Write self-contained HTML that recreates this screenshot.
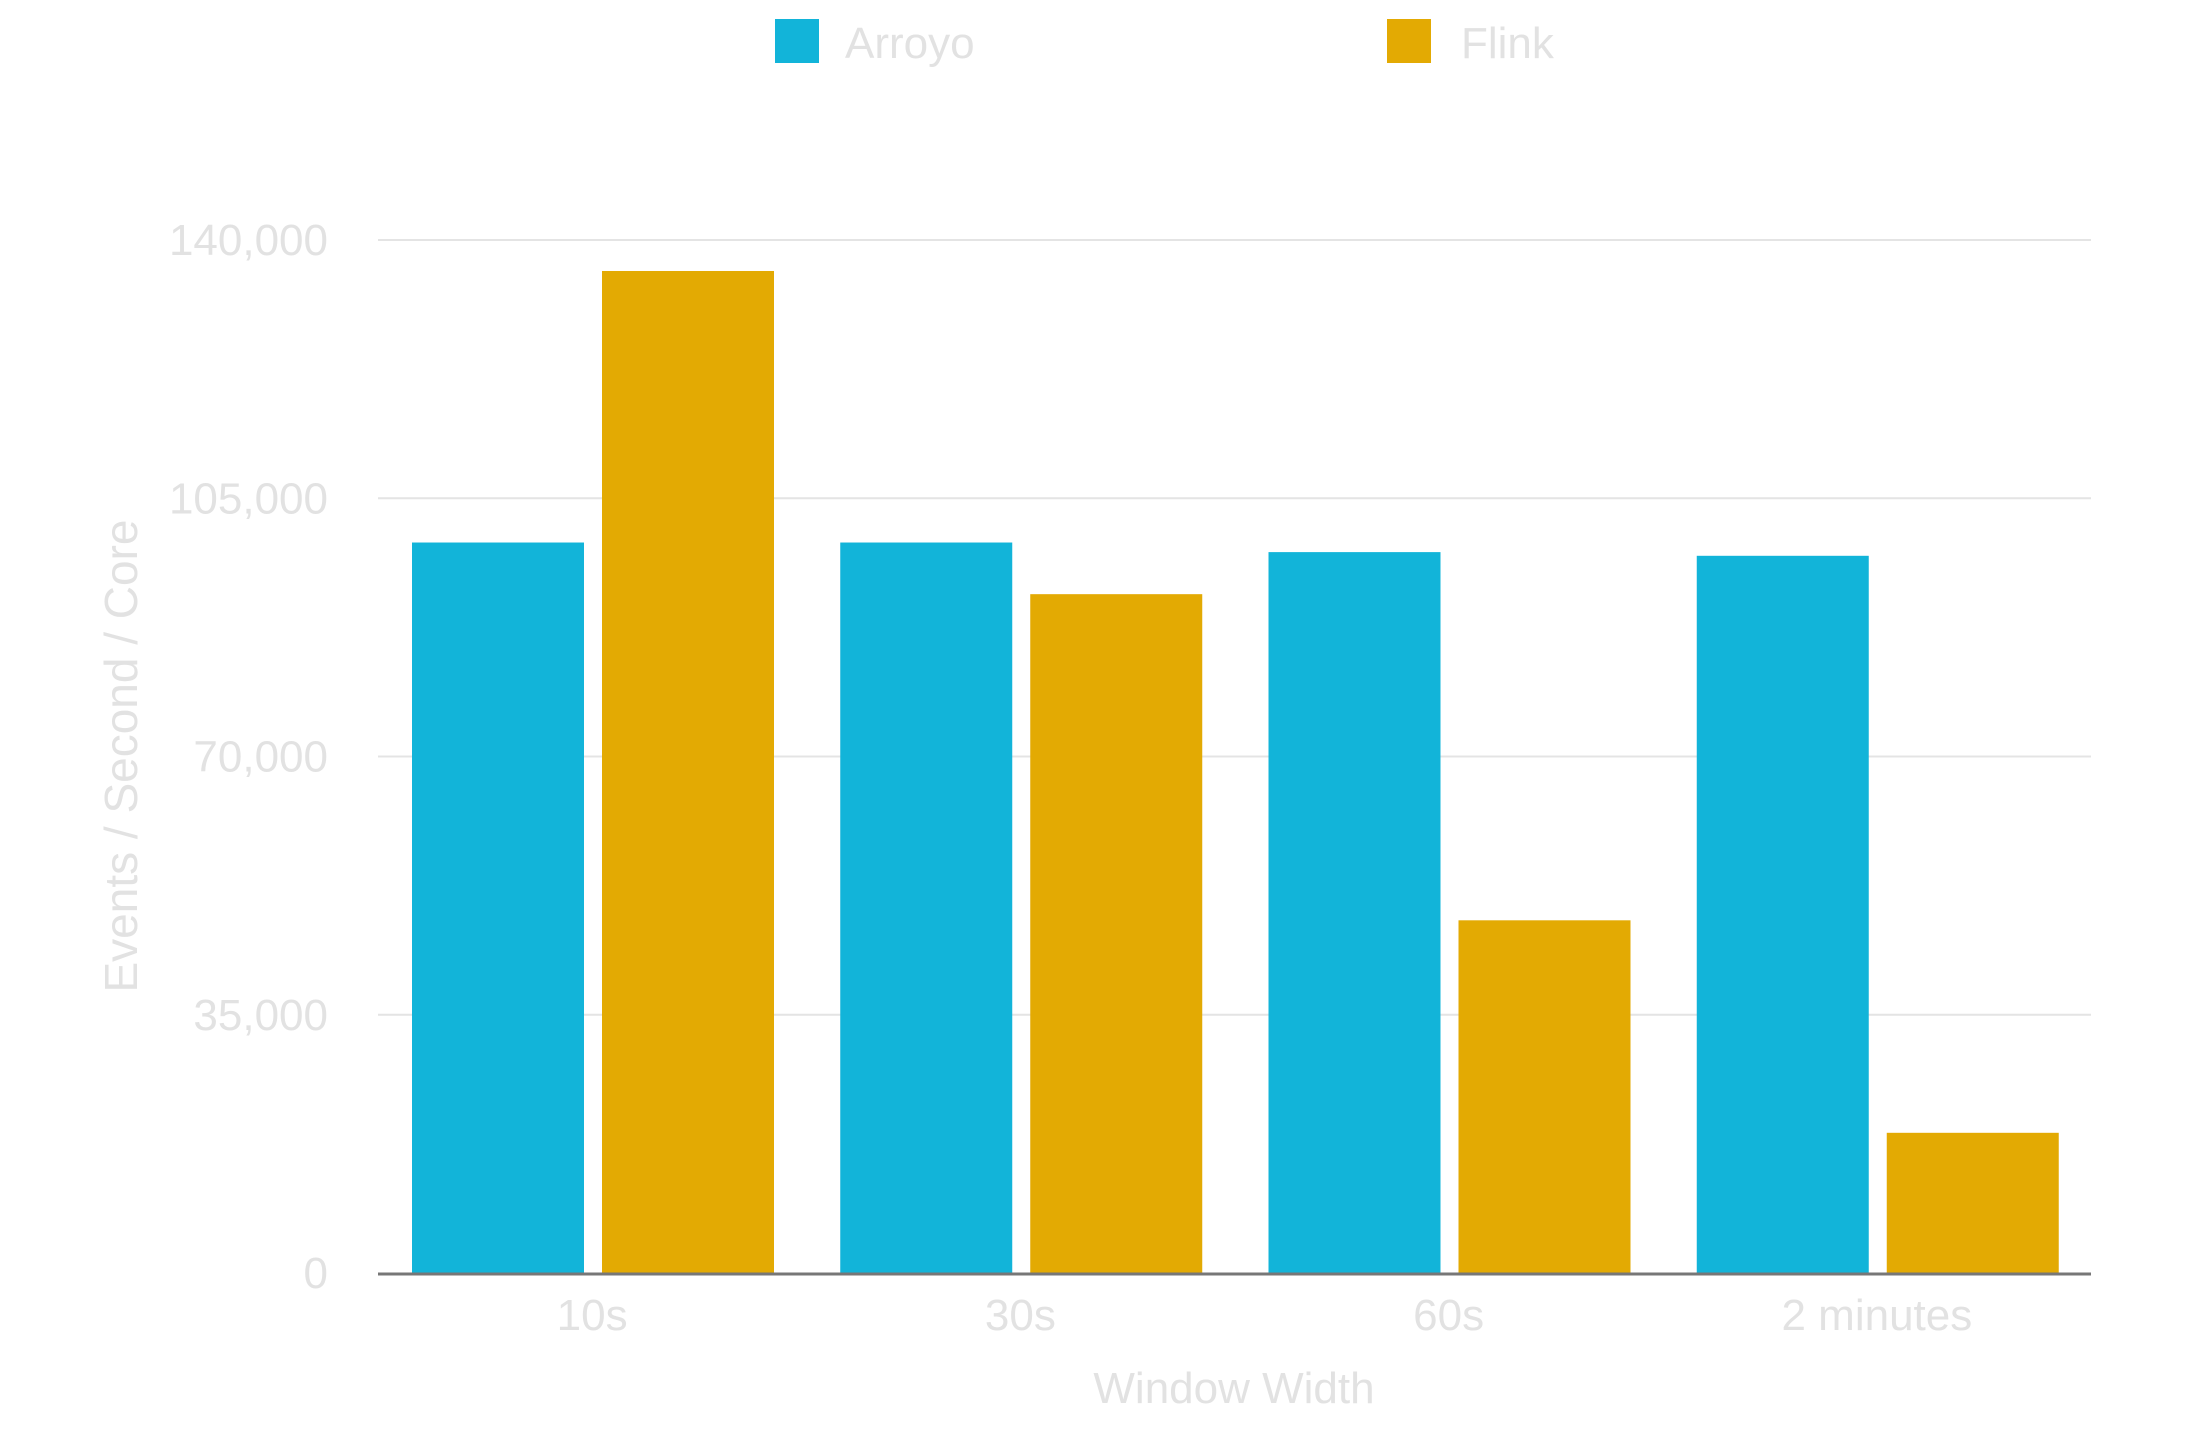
<!DOCTYPE html>
<html><head><meta charset="utf-8">
<style>
html,body{margin:0;padding:0;background:#fff;}
svg{display:block;font-family:"Liberation Sans",Arial,sans-serif;}
</style></head>
<body>
<svg id="chart" width="2200" height="1440" viewBox="0 0 2200 1440" xmlns="http://www.w3.org/2000/svg">
  <g id="legend">
    <g>
      <rect x="775" y="19" width="44" height="44" fill="#12b4d9"/>
      <text x="845" y="58" font-size="44" fill="#e2e2e2">Arroyo</text>
    </g>
    <g>
      <rect x="1387" y="19" width="44" height="44" fill="#e3aa03"/>
      <text x="1461" y="58" font-size="44" fill="#e2e2e2">Flink</text>
    </g>
  </g>
  <g id="grid"></g>
  <g id="yticks"></g>
  <g id="bars"></g>
  <g id="xticks"></g>
  <line x1="378" y1="1274" x2="2091" y2="1274" stroke="#777" stroke-width="3"/>
  <text x="1234" y="1403" font-size="44" fill="#e2e2e2" text-anchor="middle">Window Width</text>
  <text transform="translate(137,756) rotate(-90)" x="0" y="0" font-size="46" fill="#e2e2e2" text-anchor="middle">Events / Second / Core</text>
</svg>
<script>
const categories = ["10s", "30s", "60s", "2 minutes"];
const arroyoValues = [99000, 99000, 97700, 97200];
const flinkValues = [135800, 92000, 47800, 19000];
const yTickValues = [0, 35000, 70000, 105000, 140000];
const yTickLabels = ["0", "35,000", "70,000", "105,000", "140,000"];

const NS = "http://www.w3.org/2000/svg";
const X0 = 378, X1 = 2091, Y0 = 1273, Y1 = 240, YMAX = 140000;
function yScale(v){ return Y0 - (v / YMAX) * (Y0 - Y1); }
const band = (X1 - X0) / categories.length;
function xBand(i){ return X0 + i * band; }

const grid = document.getElementById('grid');
const yt = document.getElementById('yticks');
yTickValues.forEach((v, i) => {
  const y = yScale(v);
  if (v !== 0) {
    const l = document.createElementNS(NS, 'line');
    l.setAttribute('x1', X0); l.setAttribute('x2', X1);
    l.setAttribute('y1', y); l.setAttribute('y2', y);
    l.setAttribute('stroke', '#e4e4e4'); l.setAttribute('stroke-width', '2');
    
    
    grid.appendChild(l);
  }
  const t = document.createElementNS(NS, 'text');
  t.setAttribute('x', 328); t.setAttribute('y', y + 15);
  t.setAttribute('font-size', '44'); t.setAttribute('fill', '#e2e2e2');
  t.setAttribute('text-anchor', 'end');
  t.textContent = yTickLabels[i];
  
  
  yt.appendChild(t);
});

const bars = document.getElementById('bars');
const xt = document.getElementById('xticks');
const barW = 172, off = 34, gap = 18;
categories.forEach((c, i) => {
  const bx = xBand(i);
  const series = [[arroyoValues[i], '#12b4d9', 'bar-arroyo'], [flinkValues[i], '#e3aa03', 'bar-flink']];
  series.forEach((s, j) => {
    const r = document.createElementNS(NS, 'rect');
    const top = yScale(s[0]);
    r.setAttribute('x', bx + off + j * (barW + gap));
    r.setAttribute('y', top);
    r.setAttribute('width', barW);
    r.setAttribute('height', Y0 - top);
    r.setAttribute('fill', s[1]);
    
    
    bars.appendChild(r);
  });
  const t = document.createElementNS(NS, 'text');
  t.setAttribute('x', bx + band / 2); t.setAttribute('y', 1330);
  t.setAttribute('font-size', '44'); t.setAttribute('fill', '#e2e2e2');
  t.setAttribute('text-anchor', 'middle');
  t.textContent = c;
  
  
  xt.appendChild(t);
});
</script>
</body></html>
